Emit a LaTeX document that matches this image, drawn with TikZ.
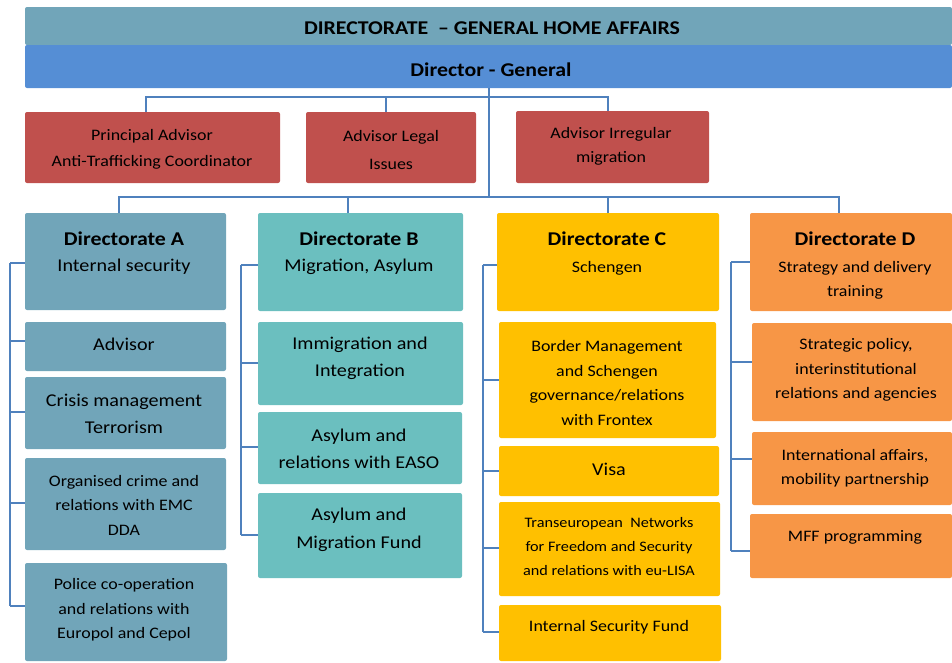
\documentclass[tikz,border=0pt]{standalone}
\usepackage{fontspec}
\setmainfont{Carlito}[FakeStretch=1.12]
\usetikzlibrary{calc}
\definecolor{cBan}{HTML}{71A5B9}
\definecolor{cDG}{HTML}{558ED5}
\definecolor{cRed}{HTML}{C0504D}
\definecolor{cA}{HTML}{71A5B9}
\definecolor{cB}{HTML}{6BBFBF}
\definecolor{cC}{HTML}{FFC000}
\definecolor{cD}{HTML}{F79646}
\definecolor{cLine}{HTML}{4F81BD}
\newcommand\bx[6]{\node[box, fill=#6, minimum width={#4-#2}, minimum height={#5-#3}] (#1) at ({(#2+#4)/2},{(#3+#5)/2}) {};}
\tikzset{
  box/.style={rectangle, rounded corners=2pt, inner sep=0pt, outer sep=0pt, draw=none},
  txt/.style={align=center, inner sep=0pt, text=black},
  ttl/.style={txt, font=\fontsize{19.5}{24}\selectfont\bfseries},
  big/.style={txt, font=\fontsize{18}{#1}\selectfont},
  big/.default=27,
  sml/.style={txt, font=\fontsize{16}{#1}\selectfont},
  sml/.default=24.5,
  conn/.style={draw=cLine, line width=1.4pt},
}
\begin{document}
\begin{tikzpicture}[x=1pt, y={(0pt,-1pt)}]
\useasboundingbox (0,0) rectangle (952,662);
% banners
\bx{banner}{25}{7}{952}{45}{cBan}
\bx{dg}{25}{45}{952}{88}{cDG}
\node[ttl] (bannerT) at (492,28) {DIRECTORATE ~– GENERAL HOME AFFAIRS};
\node[ttl] (dgT) at (491,70) {Director - General};
% advisors
\bx{r1}{25}{112}{280}{183}{cRed}
\bx{r2}{306}{112}{476}{183}{cRed}
\bx{r3}{516}{111}{709}{183}{cRed}
\node[sml=26] (r1T) at (152,149) {Principal Advisor\\Anti-Trafficking Coordinator};
\node[sml=28] (r2T) at (391,150) {Advisor Legal\\Issues};
\node[sml=24] (r3T) at (611,146) {Advisor Irregular\\migration};
% column A
\bx{aH}{25}{213}{226}{310}{cA}
\bx{a1}{25}{322}{226}{371}{cA}
\bx{a2}{25}{377}{226}{449}{cA}
\bx{a3}{25}{458}{226}{550}{cA}
\bx{a4}{25}{563}{227}{661}{cA}
\node[ttl] (aHt) at (124,239) {Directorate A};
\node[big] (aHs) at (124,267) {Internal security};
\node[big] (a1T) at (124,344) {Advisor};
\node[big=27] (a2T) at (124,414) {Crisis management\\Terrorism};
\node[sml=24.5] (a3T) at (124,505) {Organised crime and\\relations with EMC\\DDA};
\node[sml=24.5] (a4T) at (124,610) {Police co-operation\\and relations with\\Europol and Cepol};
% column B
\bx{bH}{258}{213}{463}{311}{cB}
\bx{b1}{258}{322}{463}{405}{cB}
\bx{b2}{258}{412}{462}{484}{cB}
\bx{b3}{258}{493}{462}{578}{cB}
\node[ttl] (bHt) at (359,239) {Directorate B};
\node[big] (bHs) at (359,267) {Migration, Asylum};
\node[big=27] (b1T) at (360,358) {Immigration and\\Integration};
\node[big=27] (b2T) at (359,449) {Asylum and\\relations with EASO};
\node[big=28] (b3T) at (359,530) {Asylum and\\Migration Fund};
% column C
\bx{cH}{497}{213}{719}{311}{cC}
\bx{c1}{499}{322}{716}{438}{cC}
\bx{c2}{499}{446}{719}{496}{cC}
\bx{c3}{499}{502}{720}{596}{cC}
\bx{c4}{499}{605}{721}{661}{cC}
\node[ttl] (cHt) at (607,239) {Directorate C};
\node[sml] (cHs) at (607,268) {Schengen};
\node[sml=24.7] (c1T) at (607,383) {Border Management\\and Schengen\\governance/relations\\with Frontex};
\node[big] (c2T) at (609,469) {Visa};
\node[txt, font=\fontsize{14.5}{24}\selectfont] (c3T) at (609,547) {Transeuropean ~Networks\\for Freedom and Security\\and relations with eu-LISA};
\node[sml] (c4T) at (609,627) {Internal Security Fund};
% column D
\bx{dH}{750}{213}{952}{311}{cD}
\bx{d1}{752}{323}{952}{421}{cD}
\bx{d2}{752}{432}{952}{505}{cD}
\bx{d3}{750}{514}{952}{578}{cD}
\node[ttl] (dHt) at (855,239) {Directorate D};
\node[sml=24] (dHs) at (855,280) {Strategy and delivery\\training};
\node[sml=24.5] (d1T) at (856,370) {Strategic policy,\\interinstitutional\\relations and agencies};
\node[sml=24] (d2T) at (855,468) {International affairs,\\mobility partnership};
\node[sml] (d3T) at (855,537) {MFF programming};
% top connectors
\coordinate (j1) at (489,97);
\coordinate (j2) at (489,197);
\coordinate (r1t) at ([xshift=-6.5pt]r1.north);
\coordinate (r2t) at ([xshift=-5pt]r2.north);
\coordinate (r3t) at ([xshift=-4.5pt]r3.north);
\coordinate (aHt0) at ([xshift=-6.5pt]aH.north);
\coordinate (bHt0) at ([xshift=-12.5pt]bH.north);
\coordinate (cHt0) at (cH.north);
\coordinate (dHt0) at ([xshift=-12pt]dH.north);
\draw[conn] (dg.south -| j1) -- (j2);
\draw[conn] (r1t) |- (r3t |- j1) -- (r3t);
\draw[conn] (r2t) -- (r2t |- j1);
\draw[conn] (aHt0) |- (dHt0 |- j2) -- (dHt0);
\draw[conn] (bHt0) -- (bHt0 |- j2);
\draw[conn] (cHt0) -- (cHt0 |- j2);
% spine A
\coordinate (sa0) at (10,263);
\coordinate (sa1) at (10,341);
\coordinate (sa2) at (10,412);
\coordinate (sa3) at (10,503);
\coordinate (sa4) at (10,606);
\draw[conn] (sa0) -- (sa4);
\draw[conn] (sa0) -- (aH.west |- sa0);
\draw[conn] (sa1) -- (a1.west |- sa1);
\draw[conn] (sa2) -- (a2.west |- sa2);
\draw[conn] (sa3) -- (a3.west |- sa3);
\draw[conn] (sa4) -- (a4.west |- sa4);
% spine B
\coordinate (sb0) at (241,265);
\coordinate (sb1) at (241,363);
\coordinate (sb2) at (241,447);
\coordinate (sb3) at (241,535);
\draw[conn] (sb0) -- (sb3);
\draw[conn] (sb0) -- (bH.west |- sb0);
\draw[conn] (sb1) -- (b1.west |- sb1);
\draw[conn] (sb2) -- (b2.west |- sb2);
\draw[conn] (sb3) -- (b3.west |- sb3);
% spine C
\coordinate (sc0) at (483,265);
\coordinate (sc1) at (483,380);
\coordinate (sc2) at (483,471);
\coordinate (sc3) at (483,548);
\coordinate (sc4) at (483,632);
\draw[conn] (sc0) -- (sc4);
\draw[conn] (sc0) -- (cH.west |- sc0);
\draw[conn] (sc1) -- (c1.west |- sc1);
\draw[conn] (sc2) -- (c2.west |- sc2);
\draw[conn] (sc3) -- (c3.west |- sc3);
\draw[conn] (sc4) -- (c4.west |- sc4);
% spine D
\coordinate (sd0) at (731,262);
\coordinate (sd1) at (731,362);
\coordinate (sd2) at (731,459);
\coordinate (sd3) at (731,551);
\draw[conn] (sd0) -- (sd3);
\draw[conn] (sd0) -- (dH.west |- sd0);
\draw[conn] (sd1) -- (d1.west |- sd1);
\draw[conn] (sd2) -- (d2.west |- sd2);
\draw[conn] (sd3) -- (d3.west |- sd3);
\end{tikzpicture}
\end{document}
